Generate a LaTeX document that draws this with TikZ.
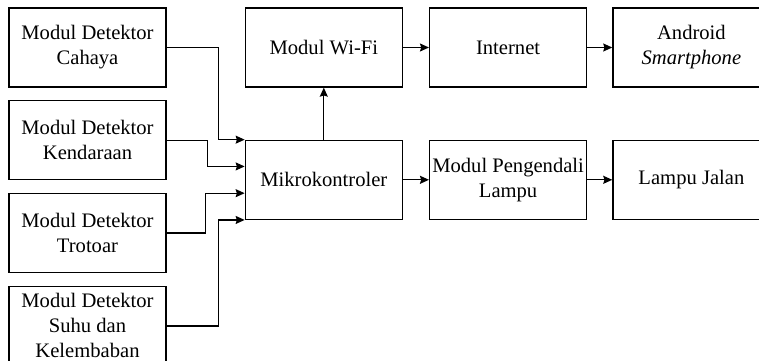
\documentclass[tikz,border=0pt]{standalone}
\usepackage{fontspec}
\setmainfont{Liberation Serif}
\usetikzlibrary{arrows.meta, positioning, calc}
\tikzset{
  block/.style={rectangle, draw=black, line width=0.65pt, fill=white,
                align=center, minimum width=78.5pt, minimum height=39.5pt,
                inner sep=1pt, font=\fontsize{10.3}{12.5}\selectfont},
  arr/.style={-{Stealth[length=4.5pt, width=4pt, inset=0.6pt]},
              line width=0.65pt},
}
\begin{document}
\begin{tikzpicture}
  \clip (0,0) rectangle (379.5pt,-180pt);

  % sensor modules on the left
  \node[block] (cahaya) at (43.75pt,-23.75pt) {Modul Detektor\\Cahaya};
  \node[block, below=6.25pt of cahaya]    (kendaraan) {Modul Detektor\\Kendaraan};
  \node[block, below=6.25pt of kendaraan] (trotoar)   {Modul Detektor\\Trotoar};
  \node[block, below=6.25pt of trotoar]   (suhu)      {Modul Detektor\\Suhu dan\\Kelembaban};

  % controller and outputs
  \node[block, right=39pt of cahaya]      (wifi)       {Modul Wi-Fi};
  \node[block, below=26pt of wifi]        (mikro)      {Mikrokontroler};
  \node[block, right=13pt of wifi]        (internet)   {Internet};
  \node[block, right=12.5pt of internet]  (android)    {Android\\\textit{Smartphone}};
  \node[block, right=13pt of mikro]       (pengendali) {Modul Pengendali\\Lampu};
  \node[block, right=12.5pt of pengendali](lampu)      {Lampu Jalan};

  \draw[arr] (cahaya.east)    -- ++(26pt,0)   |- (mikro.north west);
  \draw[arr] (kendaraan.east) -- ++(20.5pt,0) |- ($(mikro.north west)!1/3!(mikro.south west)$);
  \draw[arr] (trotoar.east)   -- ++(19.5pt,0) |- ($(mikro.north west)!2/3!(mikro.south west)$);
  \draw[arr] (suhu.east)      -- ++(26pt,0)   |- (mikro.south west);

  \draw[arr] (mikro)      -- (wifi);
  \draw[arr] (wifi)       -- (internet);
  \draw[arr] (internet)   -- (android);
  \draw[arr] (mikro)      -- (pengendali);
  \draw[arr] (pengendali) -- (lampu);
\end{tikzpicture}
\end{document}
